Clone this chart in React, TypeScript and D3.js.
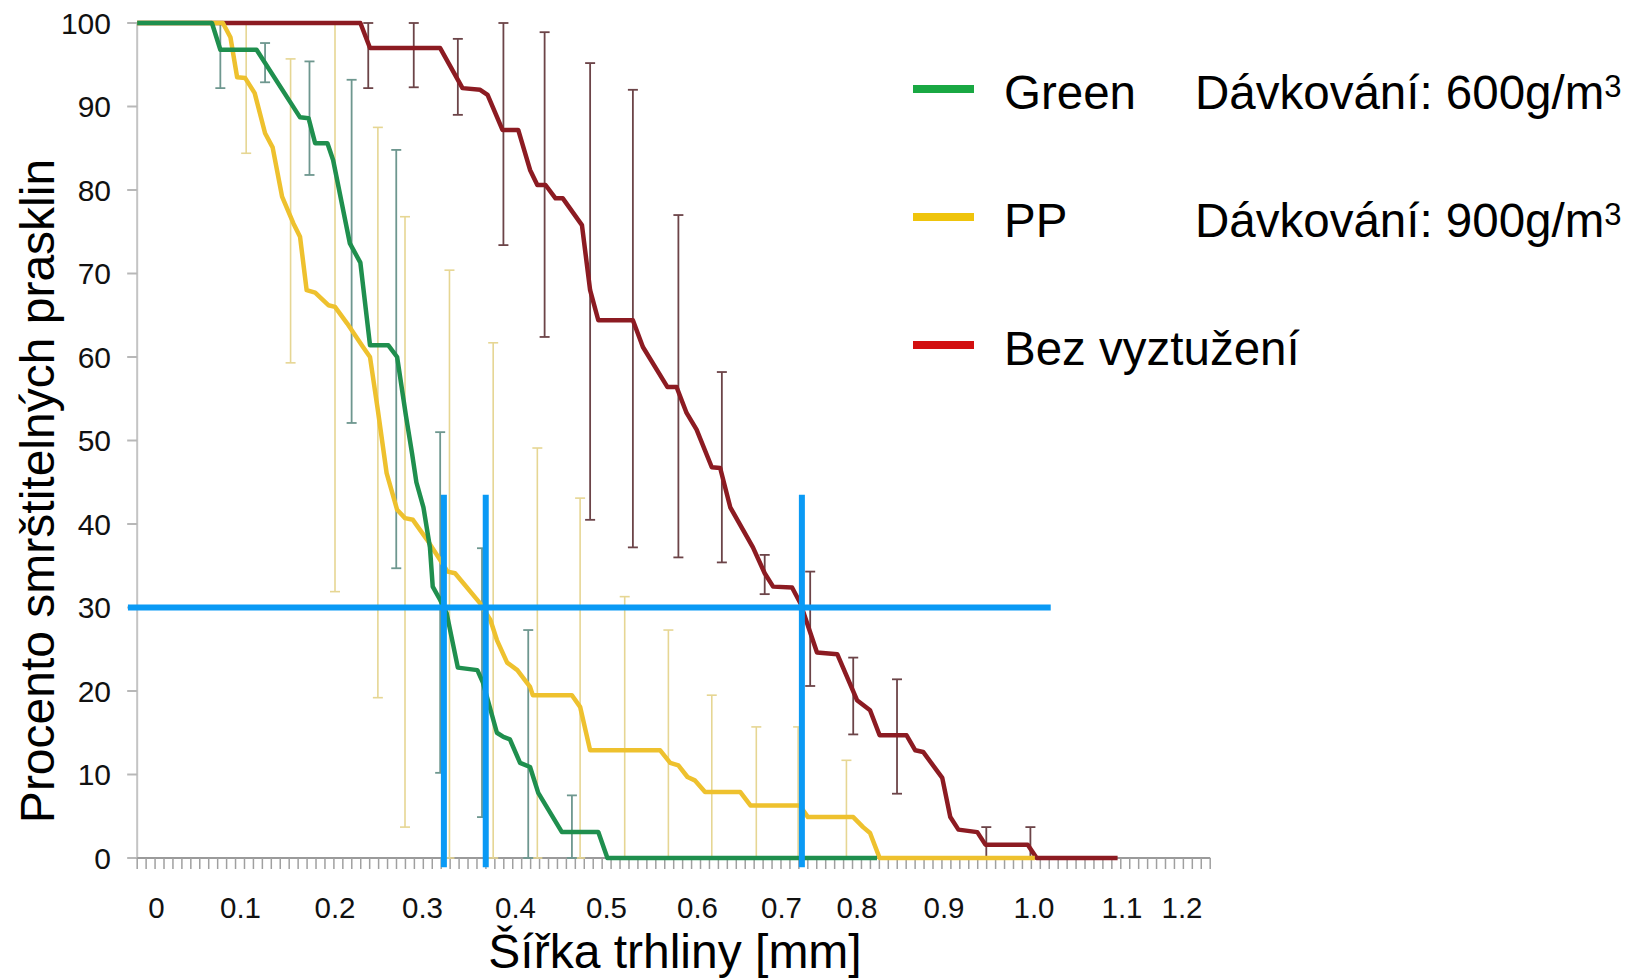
import React from "react";
import * as d3 from "d3";

// tick values
const xTickValues = [0, 0.1, 0.2, 0.3, 0.4, 0.5, 0.6, 0.7, 0.8, 0.9, 1.0, 1.1, 1.2];
const xTickLabels = ["0", "0.1", "0.2", "0.3", "0.4", "0.5", "0.6", "0.7", "0.8", "0.9", "1.0", "1.1", "1.2"];
const yTickValues = [0, 10, 20, 30, 40, 50, 60, 70, 80, 90, 100];

// curves: [crack width mm, % of cracks]
const greenCurve: [number, number][] = [
  [-0.023, 100], [0.066, 100], [0.076, 96.8], [0.117, 96.8], [0.163, 88.7], [0.172, 88.6],
  [0.179, 85.6], [0.192, 85.6], [0.198, 83.6], [0.217, 73.6], [0.229, 71.3], [0.24, 61.4],
  [0.261, 61.4], [0.271, 60], [0.281, 53], [0.288, 48.5], [0.293, 45], [0.301, 42],
  [0.308, 37.2], [0.311, 32.5], [0.319, 30.9], [0.326, 29.3], [0.338, 22.8], [0.359, 22.5],
  [0.365, 21], [0.38, 15], [0.387, 14.5], [0.394, 14.2], [0.405, 11.4], [0.416, 10.9],
  [0.425, 7.8], [0.451, 3.1], [0.491, 3.1], [0.501, 0], [0.823, 0],
];

const ppCurve: [number, number][] = [
  [-0.023, 100], [0.079, 100], [0.088, 98.3], [0.096, 93.5], [0.105, 93.4], [0.115, 91.6],
  [0.126, 86.8], [0.134, 85.1], [0.144, 79.2], [0.156, 76], [0.163, 74.4], [0.17, 68],
  [0.179, 67.7], [0.193, 66.2], [0.2, 66], [0.214, 64], [0.232, 61.2], [0.24, 60],
  [0.249, 53.6], [0.259, 46.1], [0.271, 41.7], [0.28, 40.7], [0.289, 40.5], [0.305, 38.1],
  [0.319, 35.7], [0.327, 34.3], [0.335, 34.1], [0.344, 32.9], [0.362, 30.5], [0.373, 28.5],
  [0.38, 26.1], [0.391, 23.4], [0.402, 22.5], [0.416, 20.5], [0.419, 19.5], [0.462, 19.5],
  [0.471, 18.1], [0.482, 12.9], [0.559, 12.9], [0.57, 11.4], [0.579, 11.1], [0.589, 9.7],
  [0.597, 9.3], [0.609, 7.9], [0.651, 7.9], [0.663, 6.3], [0.724, 6.3], [0.735, 4.9],
  [0.795, 4.9], [0.807, 3.7], [0.815, 3], [0.826, 0], [1.001, 0],
];

const redCurve: [number, number][] = [
  [-0.023, 100], [0.229, 100], [0.24, 97], [0.319, 97], [0.343, 92.2], [0.362, 92],
  [0.37, 91.4], [0.386, 87.2], [0.403, 87.2], [0.416, 82.4], [0.424, 80.6], [0.433, 80.6],
  [0.444, 79], [0.452, 79], [0.473, 75.8], [0.482, 68], [0.491, 64.4], [0.529, 64.4],
  [0.54, 61.2], [0.567, 56.4], [0.577, 56.4], [0.588, 53.3], [0.599, 51.3], [0.617, 46.8],
  [0.627, 46.7], [0.639, 42], [0.666, 37.2], [0.68, 34.1], [0.69, 32.5], [0.714, 32.4],
  [0.725, 30.5], [0.747, 24.6], [0.774, 24.4], [0.8, 18.9], [0.815, 17.7], [0.826, 14.7],
  [0.857, 14.7], [0.867, 12.9], [0.876, 12.7], [0.898, 9.6], [0.907, 4.9], [0.916, 3.4],
  [0.937, 3.1], [0.946, 1.6], [0.993, 1.6], [1.003, 0], [1.095, 0],
];

// error bars: [x, low, high]
const greenErr: [number, number, number][] = [
  [0.076, 92.2, 100], [0.126, 92.9, 97.6], [0.173, 81.8, 95.4], [0.219, 52.1, 93.2],
  [0.27, 34.7, 84.8], [0.319, 10.2, 51], [0.364, 4.9, 37.1], [0.414, 0, 27.3], [0.462, 0, 7.5],
];
const ppErr: [number, number, number][] = [
  [0.106, 84.4, 100], [0.153, 59.3, 95.7], [0.2, 31.9, 100], [0.249, 19.2, 87.5],
  [0.28, 3.7, 76.8], [0.329, 0, 70.4], [0.376, 0, 61.7], [0.424, 0, 49.1], [0.471, 0, 43.1],
  [0.52, 0, 31.3], [0.568, 0, 27.3], [0.617, 0, 19.5], [0.67, 0, 15.7], [0.722, 0, 15.7],
  [0.786, 0, 11.7],
];
const redErr: [number, number, number][] = [
  [0.238, 92.2, 100], [0.29, 92.3, 100], [0.338, 89, 98.1], [0.387, 73.4, 100],
  [0.432, 62.4, 98.9], [0.482, 40.5, 95.2], [0.529, 37.2, 92], [0.579, 36, 77],
  [0.629, 35.4, 58.2], [0.68, 31.6, 36.3], [0.738, 20.6, 34.3], [0.795, 14.8, 24],
  [0.846, 7.7, 21.4], [0.947, 0, 3.7], [0.996, 0, 3.7],
];

// blue reading lines at 30 %
const crossLevel = 30;
const crossX = [0.323, 0.368, 0.727];
const crossSpanX = [-0.034, 1.019];
const crossSpanY = [-1.1, 43.5];

const legendNames = ["Green", "PP", "Bez vyztužení"];
const legendDose = ["600", "900", ""];
const legendColors = ["#19a843", "#efc40c", "#d20f10"];

const X_MIN = -0.023;
const X_MAX = 1.247;
const MINOR_TICKS = 120;
const FONT = "'Liberation Sans', Arial, sans-serif";

export default function App() {
  // the printed labels are not evenly spaced, so the scale is piecewise
  const x = d3
    .scaleLinear()
    .domain(xTickValues)
    .range([156.5, 240.5, 335, 422.5, 515.5, 606.5, 697.5, 781.5, 857, 944, 1034, 1122, 1182]);
  const y = d3.scaleLinear().domain([0, 100]).range([858, 23]);
  const line = d3
    .line<[number, number]>()
    .x((d) => x(d[0]))
    .y((d) => y(d[1]));

  const x0 = x(X_MIN);
  const x1 = x(X_MAX);
  const minor = d3.scaleLinear().domain([0, MINOR_TICKS]).range([x0, x1]);

  const errBars = (data: [number, number, number][], color: string, w: number, key: string) =>
    data.map((d, i) => (
      <g key={key + i} stroke={color} strokeWidth={w}>
        <line x1={x(d[0])} x2={x(d[0])} y1={y(d[1])} y2={y(d[2])} />
        <line x1={x(d[0]) - 5} x2={x(d[0]) + 5} y1={y(d[1])} y2={y(d[1])} />
        <line x1={x(d[0]) - 5} x2={x(d[0]) + 5} y1={y(d[2])} y2={y(d[2])} />
      </g>
    ));

  return (
    <svg
      width={1631}
      height={980}
      style={{ position: "absolute", left: 0, top: 0, background: "#fff" }}
      fontFamily={FONT}
    >
      {/* y axis */}
      <line x1={x0} x2={x0} y1={y(100)} y2={y(0)} stroke="#c4c4c4" strokeWidth={2} />
      {yTickValues.map((v) => (
        <g key={"y" + v}>
          <line x1={x0 - 10} x2={x0} y1={y(v)} y2={y(v)} stroke="#b8b8b8" strokeWidth={2} />
          <text x={111} y={y(v)} dy="0.36em" textAnchor="end" fontSize={30} fill="#111">
            {v}
          </text>
        </g>
      ))}

      {/* x axis */}
      <line x1={x0} x2={x1} y1={y(0)} y2={y(0)} stroke="#9a9a9a" strokeWidth={2} />
      {d3.range(0, MINOR_TICKS + 1).map((i) => (
        <line
          key={"m" + i}
          x1={minor(i)}
          x2={minor(i)}
          y1={y(0)}
          y2={y(0) + 11}
          stroke="#a0a0a0"
          strokeWidth={1.5}
        />
      ))}
      {xTickValues.map((v, i) => (
        <text key={"x" + v} x={x(v)} y={918} textAnchor="middle" fontSize={29.5} fill="#111">
          {xTickLabels[i]}
        </text>
      ))}

      {/* error bars */}
      {errBars(ppErr, "#e6d693", 1.6, "pe")}
      {errBars(greenErr, "#6e978f", 1.8, "ge")}
      {errBars(redErr, "#6c4448", 1.8, "re")}

      {/* curves */}
      <path d={line(redCurve) || ""} fill="none" stroke="#8c1b22" strokeWidth={4.5} strokeLinejoin="round" />
      <path d={line(ppCurve) || ""} fill="none" stroke="#eec12e" strokeWidth={4.5} strokeLinejoin="round" />
      <path d={line(greenCurve) || ""} fill="none" stroke="#1f8f4e" strokeWidth={4.5} strokeLinejoin="round" />

      {/* reading lines */}
      <line
        x1={x(crossSpanX[0])}
        x2={x(crossSpanX[1])}
        y1={y(crossLevel)}
        y2={y(crossLevel)}
        stroke="#0a9af5"
        strokeWidth={6}
      />
      {crossX.map((v) => (
        <line
          key={"c" + v}
          x1={x(v)}
          x2={x(v)}
          y1={y(crossSpanY[0])}
          y2={y(crossSpanY[1])}
          stroke="#0a9af5"
          strokeWidth={6}
        />
      ))}

      {/* axis titles */}
      <text
        transform="translate(54,491) rotate(-90)"
        textAnchor="middle"
        fontSize={48}
        fill="#000"
      >
        Procento smrštitelných prasklin
      </text>
      <text x={675} y={968} textAnchor="middle" fontSize={48} fill="#000">
        Šířka trhliny [mm]
      </text>

      {/* legend */}
      {legendNames.map((name, i) => {
        const base = [109, 237, 365][i];
        return (
          <g key={"l" + i}>
            <line
              x1={913}
              x2={974}
              y1={base - 20}
              y2={base - 20}
              stroke={legendColors[i]}
              strokeWidth={8}
            />
            <text x={1004} y={base} fontSize={47.5} fill="#000">
              {name}
            </text>
            {legendDose[i] && (
              <text x={1195} y={base} fontSize={47.5} fill="#000">
                {`Dávkování: ${legendDose[i]}g/m`}
                <tspan fontSize={31} dy={-12}>
                  3
                </tspan>
              </text>
            )}
          </g>
        );
      })}
    </svg>
  );
}
